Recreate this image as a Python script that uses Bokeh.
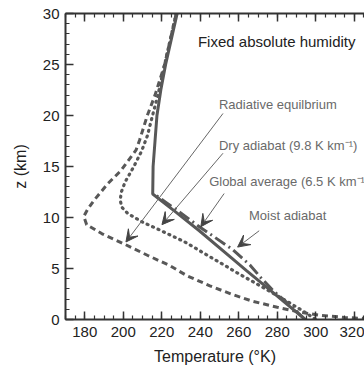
from bokeh.plotting import figure
from bokeh.models import (ColumnDataSource, LinearAxis, FixedTicker, Range1d,
                          Arrow, VeeHead, CustomLabelingPolicy)
from bokeh.core.properties import value
from bokeh.embed import file_html
from bokeh.resources import INLINE

# ---- data (temperature in K, height in km) ----
glob_z = [0, 3, 4.8, 6, 8.7, 10.5, 12.3, 15, 17.5, 20, 22.5, 25, 27.5, 30]
glob_t = [294.5, 275.5, 264, 256.5, 239.5, 227.5, 215.3, 215.5, 216.5, 217.5,
          219.5, 222, 225, 228]

moist_z = [0, 1.5, 2.8, 4.1, 5.3, 6.9, 9.1, 10.5, 11.5, 12.3]
moist_t = [294.5, 286, 278, 271.5, 266, 256.5, 239.5, 229.5, 222, 216]

dry_z = [30, 25, 22, 20, 18, 16.5, 15, 13.5, 12.5, 11.7, 11, 10.4, 9.5, 8.9,
         7.6, 6.1, 4.6, 3.2, 2, 1, 0]
dry_t = [227.5, 221.5, 218, 215.2, 212.5, 209.5, 205.5, 201, 199, 198.4, 199.3,
         202.3, 210.5, 217.5, 232, 245.5, 259, 272, 283, 292, 300]

rad_z = [30, 25, 22, 20, 17.6, 16.6, 14.6, 13.3, 11.7, 10.8, 10.1, 9.3, 8.4,
         7.4, 6.3, 5.3, 4.3, 3.3, 2.5, 1.8, 1.2, 0.7, 0.4, 0.2, 0.05]
rad_t = [227.5, 221.5, 216.5, 212.5, 208.5, 206.6, 198.8, 191.9, 184.9, 181.5,
         179.5, 181, 189, 200.5, 212.5, 224, 233, 245, 256, 267, 280, 292, 303,
         315, 330]

x_major = [180, 200, 220, 240, 260, 280, 300, 320]
x_minor = list(range(170, 330, 5))
y_major = [0, 5, 10, 15, 20, 25, 30]
y_minor = list(range(0, 31, 1))

labels = ["Radiative equilbrium", "Dry adiabat (9.8 K km\u207b\u00b9)",
          "Global average (6.5 K km\u207b\u00b9)", "Moist adiabat"]
label_t = [249.7, 249.7, 244.6, 265.3]
label_z = [21.1, 17.1, 13.5, 10.2]

arrow_t0 = [251.8, 251.8, 252.4, 270.6]
arrow_z0 = [20.2, 16.3, 12.35, 8.7]
arrow_t1 = [201.4, 220.1, 240.3, 259.4]
arrow_z1 = [7.6, 9.3, 9.1, 7.1]

title_text = "Fixed absolute humidity"
title_t, title_z = 238.8, 27.25

FONT = "Liberation Sans"
CURVE = "#585858"

p = figure(frame_width=299, frame_height=306, output_backend="svg",
           toolbar_location=None, x_range=Range1d(170, 325.3),
           y_range=Range1d(0, 30), min_border_left=65, min_border_top=13,
           min_border_right=0, min_border_bottom=10)
p.outline_line_color = None
p.grid.grid_line_color = None
p.background_fill_color = "white"
p.border_fill_color = "white"

xt = FixedTicker(ticks=x_major, minor_ticks=x_minor)
yt = FixedTicker(ticks=y_major, minor_ticks=y_minor)


def style_axis(ax, ticker):
    ax.ticker = ticker
    ax.axis_line_color = "#333333"
    ax.axis_line_width = 2
    ax.major_tick_line_color = "#333333"
    ax.major_tick_line_width = 1.5
    ax.minor_tick_line_color = "#333333"
    ax.minor_tick_line_width = 1.2
    ax.major_tick_in = 8
    ax.major_tick_out = 0
    ax.minor_tick_in = 4
    ax.minor_tick_out = 0
    ax.major_label_text_font = FONT
    ax.major_label_text_font_size = "15px"
    ax.major_label_text_color = "#222222"
    ax.axis_label_text_font = FONT
    ax.axis_label_text_font_size = "16px"
    ax.axis_label_text_font_style = "normal"
    ax.axis_label_text_color = "#222222"


style_axis(p.xaxis[0], xt)
style_axis(p.yaxis[0], yt)
p.xaxis[0].axis_label = "Temperature (\u00b0K)"
p.yaxis[0].axis_label = "z (km)"
p.xaxis[0].major_label_standoff = 7
p.xaxis[0].axis_label_standoff = 8
p.yaxis[0].major_label_standoff = 6
p.yaxis[0].axis_label_standoff = 11

top = LinearAxis()
style_axis(top, xt)
top.major_label_policy = CustomLabelingPolicy(
    code="for (const i of indices) { if (i < 0) yield i }")
top.major_label_standoff = 0
p.add_layout(top, "above")

# curves
p.line(rad_t, rad_z, line_color=CURVE, line_width=3, line_dash="6 4")
p.line(dry_t, dry_z, line_color=CURVE, line_width=3.2, line_dash="1 5",
       line_cap="round")
p.line(glob_t, glob_z, line_color=CURVE, line_width=3)
p.line(moist_t, moist_z, line_color=CURVE, line_width=3, line_dash="12 4 2 4")

# annotations
src = ColumnDataSource(dict(x0=arrow_t0, y0=arrow_z0, x1=arrow_t1, y1=arrow_z1))
p.add_layout(Arrow(x_start="x0", y_start="y0", x_end="x1", y_end="y1",
                   source=src, line_color="#666666", line_width=1,
                   end=VeeHead(size=12, fill_color="#444444",
                               line_color="#444444", line_width=1)))

p.text(x=label_t, y=label_z, text=labels, text_font=value(FONT),
       text_font_size="13px", text_color="#6a6a6a", text_baseline="middle",
       text_align="left")
p.text(x=[title_t], y=[title_z], text=[title_text], text_font=value(FONT),
       text_font_size="15px", text_color="#222222", text_baseline="middle",
       text_align="left")

open("out.html", "w").write(file_html(p, INLINE))
